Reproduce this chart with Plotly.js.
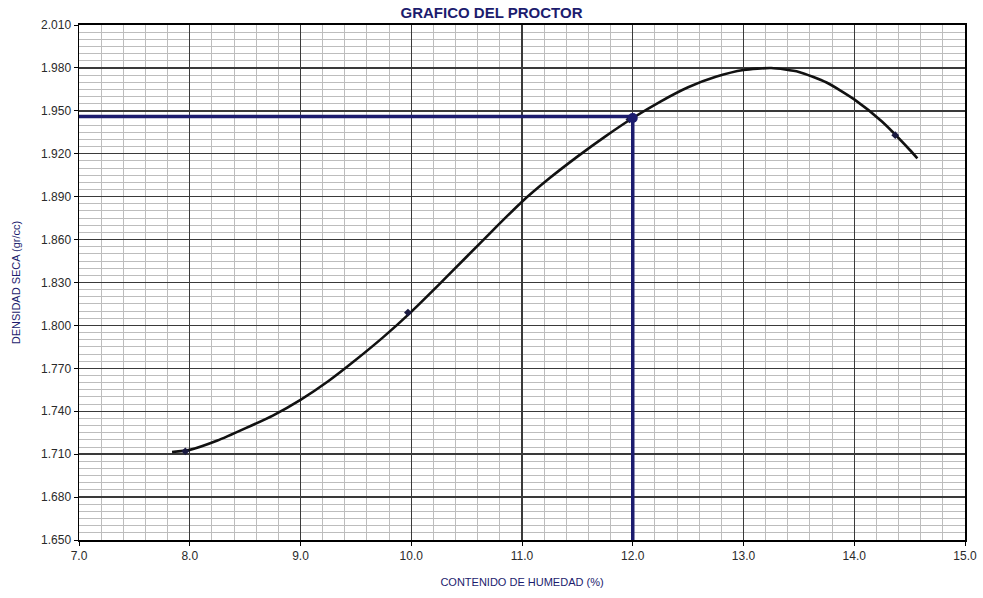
<!DOCTYPE html>
<html>
<head>
<meta charset="utf-8">
<script src="https://cdn.plot.ly/plotly-3.0.1.min.js"></script>
<style>html,body{margin:0;padding:0;background:#fff;}#chart{width:983px;height:598px;}</style>
</head>
<body>
<div id="chart"></div>
<script>
// Ensayo Proctor: puntos medidos
const humedad = [7.96, 9.97, 11.97, 14.37];
const densidad = [1.712, 1.809, 1.944, 1.933];

// Curva de compactación
const curvaX = [7.84, 8.00, 8.25, 8.50, 8.75, 9.00, 9.25, 9.50, 9.75, 10.00, 10.25, 10.50, 10.75, 11.00, 11.25, 11.50, 11.75, 12.00, 12.25, 12.50, 12.75, 13.00, 13.25, 13.50, 13.75, 14.00, 14.25, 14.50, 14.57];
const curvaY = [1.7115, 1.7130, 1.7195, 1.7280, 1.7370, 1.7480, 1.7610, 1.7760, 1.7920, 1.8095, 1.8285, 1.8480, 1.8675, 1.8865, 1.9030, 1.9180, 1.9320, 1.9450, 1.9565, 1.9665, 1.9738, 1.9785, 1.9799, 1.9772, 1.9698, 1.9580, 1.9425, 1.9228, 1.9168];

// Densidad máxima seca y humedad óptima
const optX = [7.0, 12.0, 12.0];
const optY = [1.946, 1.946, 1.650];

const yTicks = [1.650, 1.680, 1.710, 1.740, 1.770, 1.800, 1.830, 1.860, 1.890, 1.920, 1.950, 1.980, 2.010];
const xTicks = [7, 8, 9, 10, 11, 12, 13, 14, 15];

const navy = '#1c1c6e';
const font = 'Liberation Sans Narrow, Arial Narrow, Liberation Sans, Arial, sans-serif';

const traces = [
  {x: optX, y: optY, mode: 'lines', line: {color: navy, width: 3.5}, hoverinfo: 'skip', showlegend: false},
  {x: curvaX, y: curvaY, mode: 'lines', line: {color: '#111', width: 2.6, shape: 'spline', smoothing: 0.6}, showlegend: false},
  {x: humedad, y: densidad, mode: 'markers', marker: {color: '#1a1a40', size: 6, symbol: 'diamond'}, showlegend: false},
  {x: [12.0], y: [1.945], mode: 'markers', marker: {color: navy, size: 10}, showlegend: false}
];

const layout = {
  width: 983, height: 598,
  margin: {l: 79, r: 18, t: 25, b: 58},
  paper_bgcolor: '#fff', plot_bgcolor: '#fff',
  title: {text: '<b>GRAFICO DEL PROCTOR</b>', x: 0.5, xanchor: 'center', y: 0.988, yanchor: 'top',
          font: {family: font, size: 15, color: navy}},
  xaxis: {
    range: [7, 15], tickvals: xTicks, tickformat: '.1f',
    showgrid: true, gridcolor: '#3a3a3a', gridwidth: 1.4,
    minor: {dtick: 0.2, showgrid: true, gridcolor: '#bdbdbd', gridwidth: 1},
    showline: true, linecolor: '#000', linewidth: 2, mirror: true,
    ticks: 'outside', ticklen: 4, tickcolor: '#000',
    zeroline: false,
    tickfont: {family: font, size: 12, color: '#2a2a2a'},
    title: {text: 'CONTENIDO DE HUMEDAD (%)', standoff: 16, font: {family: font, size: 11, color: navy}}
  },
  yaxis: {
    range: [1.650, 2.010], tickvals: yTicks, tickformat: '.3f',
    showgrid: true, gridcolor: '#3a3a3a', gridwidth: 1.4,
    minor: {dtick: 0.005, showgrid: true, gridcolor: '#bdbdbd', gridwidth: 1},
    showline: true, linecolor: '#000', linewidth: 1.5, mirror: true,
    ticks: 'outside', ticklen: 4, tickcolor: '#000',
    zeroline: false,
    tickfont: {family: font, size: 12, color: '#2a2a2a'},
    title: {text: 'DENSIDAD SECA (gr/cc)', standoff: 18, font: {family: font, size: 11, color: navy}}
  }
};

Plotly.newPlot('chart', traces, layout, {displayModeBar: false, staticPlot: true});
</script>
</body>
</html>
